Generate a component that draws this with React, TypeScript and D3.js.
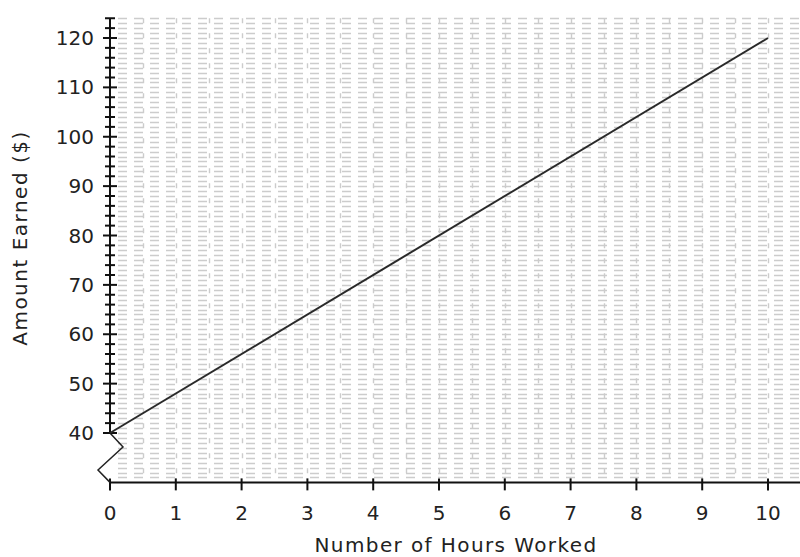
import { useEffect, useRef } from "react";
import * as d3 from "d3";

// data
const hours = [0, 10];
const earned = [40, 120];
const xTicks = [0, 1, 2, 3, 4, 5, 6, 7, 8, 9, 10];
const yTicks = [40, 50, 60, 70, 80, 90, 100, 110, 120];
const xTitle = "Number of Hours Worked";
const yTitle = "Amount Earned ($)";

const W = 800;
const H = 557;
const FONT = "'DejaVu Sans', Verdana, sans-serif";

export default function App() {
	const ref = useRef<SVGSVGElement>(null);

	useEffect(() => {
		const svg = d3.select(ref.current);
		svg.selectAll("*").remove();

		const x = d3.scaleLinear().domain([0, 10]).range([110, 768]);
		const y = d3.scaleLinear().domain([40, 120]).range([433, 38]);
		const axisY = y(30);
		const topY = y(124);

		// grid
		const grid = svg.append("g").attr("stroke", "#cccccc").attr("stroke-width", 1.4);
		const hRows = d3.range(31, 125, 1);
		grid
			.selectAll("line.h")
			.data(hRows)
			.enter()
			.append("line")
			.attr("x1", x(0) + 8)
			.attr("x2", W)
			.attr("y1", (d) => Math.round(y(d)) + 0.5)
			.attr("y2", (d) => Math.round(y(d)) + 0.5)
			.attr("stroke-dasharray", "9 7");
		const vCols = d3.range(0.5, 11, 0.5);
		grid
			.selectAll("line.v")
			.data(vCols)
			.enter()
			.append("line")
			.attr("x1", (d) => Math.round(x(d)) + 0.5)
			.attr("x2", (d) => Math.round(x(d)) + 0.5)
			.attr("y1", topY)
			.attr("y2", axisY - 4)
			.attr("stroke-dasharray", "5 10");

		// x axis line
		svg
			.append("line")
			.attr("x1", x(0))
			.attr("x2", W)
			.attr("y1", axisY)
			.attr("y2", axisY)
			.attr("stroke", "#111")
			.attr("stroke-width", 2);

		// x ticks
		svg
			.selectAll("line.xt")
			.data(xTicks)
			.enter()
			.append("line")
			.attr("x1", (d) => x(d))
			.attr("x2", (d) => x(d))
			.attr("y1", axisY - 4)
			.attr("y2", axisY + 8)
			.attr("stroke", "#111")
			.attr("stroke-width", 2);
		svg
			.selectAll("text.xl")
			.data(xTicks)
			.enter()
			.append("text")
			.attr("x", (d) => x(d))
			.attr("y", axisY + 38)
			.attr("text-anchor", "middle")
			.attr("font-family", FONT)
			.attr("font-size", 20)
			.attr("fill", "#222")
			.text((d) => d);

		// y axis line with break
		svg
			.append("line")
			.attr("x1", x(0))
			.attr("x2", x(0))
			.attr("y1", topY)
			.attr("y2", y(40))
			.attr("stroke", "#111")
			.attr("stroke-width", 2);
		const brk = d3.line()([
			[x(0), y(40)],
			[x(0) + 13, y(40) + 14],
			[x(0) - 12, y(40) + 37],
			[x(0), axisY],
		]);
		svg
			.append("path")
			.attr("d", brk)
			.attr("fill", "none")
			.attr("stroke", "#222")
			.attr("stroke-width", 1.5);

		// y ticks (minor every 2, major every 10)
		const minor = d3.range(40, 125, 2).filter((d) => d % 10 !== 0);
		svg
			.selectAll("line.ym")
			.data(minor)
			.enter()
			.append("line")
			.attr("x1", x(0) - 5)
			.attr("x2", x(0) + 5)
			.attr("y1", (d) => y(d))
			.attr("y2", (d) => y(d))
			.attr("stroke", "#111")
			.attr("stroke-width", 2);
		svg
			.selectAll("line.yM")
			.data(yTicks)
			.enter()
			.append("line")
			.attr("x1", x(0) - 7)
			.attr("x2", x(0) + 7)
			.attr("y1", (d) => y(d))
			.attr("y2", (d) => y(d))
			.attr("stroke", "#111")
			.attr("stroke-width", 2);
		svg
			.selectAll("text.yl")
			.data(yTicks)
			.enter()
			.append("text")
			.attr("x", x(0) - 16)
			.attr("y", (d) => y(d) + 7)
			.attr("text-anchor", "end")
			.attr("font-family", FONT)
			.attr("font-size", 20)
			.attr("fill", "#222")
			.text((d) => d);

		// data line
		const line = d3
			.line<number>()
			.x((d, i) => x(hours[i]))
			.y((d) => y(d));
		svg
			.append("path")
			.attr("d", line(earned))
			.attr("fill", "none")
			.attr("stroke", "#2a2a2a")
			.attr("stroke-width", 2);

		// titles
		svg
			.append("text")
			.attr("x", 456)
			.attr("y", 552)
			.attr("text-anchor", "middle")
			.attr("font-family", FONT)
			.attr("font-size", 20)
			.attr("letter-spacing", 1.4)
			.attr("fill", "#222")
			.text(xTitle);
		svg
			.append("text")
			.attr("transform", `translate(27,238) rotate(-90)`)
			.attr("text-anchor", "middle")
			.attr("font-family", FONT)
			.attr("font-size", 20)
			.attr("letter-spacing", 1.5)
			.attr("fill", "#222")
			.text(yTitle);
	}, []);

	return (
		<svg
			ref={ref}
			width={W}
			height={H}
			style={{ position: "absolute", left: 0, top: 0, background: "#fff" }}
		/>
	);
}
